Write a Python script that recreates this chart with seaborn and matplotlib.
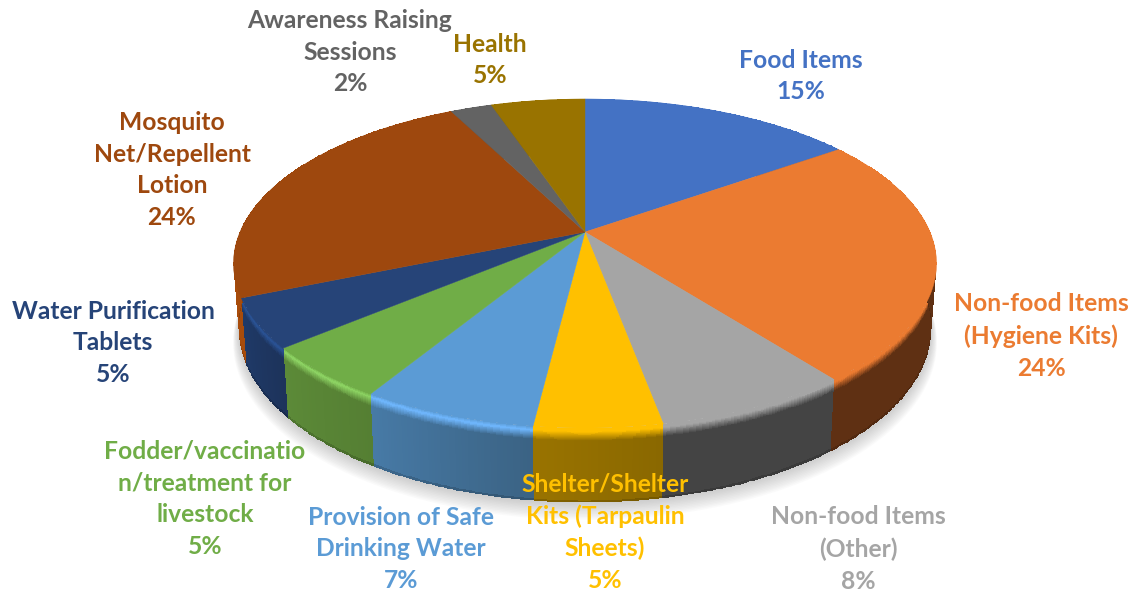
import numpy as np
import matplotlib
matplotlib.use("Agg")
import matplotlib.pyplot as plt
from matplotlib.colors import to_rgb
import seaborn as sns

categories = [
    "Food Items",
    "Non-food Items\n(Hygiene Kits)",
    "Non-food Items\n(Other)",
    "Shelter/Shelter\nKits (Tarpaulin\nSheets)",
    "Provision of Safe\nDrinking Water",
    "Fodder/vaccinatio\nn/treatment for\nlivestock",
    "Water Purification\nTablets",
    "Mosquito\nNet/Repellent\nLotion",
    "Awareness Raising\nSessions",
    "Health",
]
# unrounded shares as read from the slice boundaries, labels show them rounded
shares = [15.2, 24.3, 7.55, 4.9, 6.75, 5.2, 4.8, 23.8, 2.3, 5.2]

face_hex = ["#4472C4", "#EB7B31", "#A5A5A5", "#FFC000", "#5B9BD5",
            "#70AD47", "#264478", "#9E480E", "#636363", "#997300"]
bevel_hex = ["#4472C4", "#EB7B31", "#A5A5A5", "#FFC000", "#70B8FF",
             "#8FD665", "#2A5396", "#C05A05", "#636363", "#997300"]
wall_start = ["#2A4678", "#5F3013", "#444444", "#8A6800", "#3B6384",
              "#557F33", "#1D335B", "#A84C0B", "#444444", "#6B5000"]
wall_end = ["#2A4678", "#5F3013", "#444444", "#997300", "#477AA6",
            "#5C8A38", "#1F3A68", "#A84C0B", "#444444", "#6B5000"]

label_x = [801, 1041, 858, 605, 401, 205, 113, 172, 350, 490]
label_y = [76, 336, 549, 532, 549, 499, 343, 170, 52, 60]

# pie geometry in pixels, the tilt is a simple perspective on the unit circle
cx, cy = 585, 232
rad_x, rad_y = 345, 158.5
persp = 0.1915
depth = 62.5
shrink = 0.015


def project(theta, r=1.0, v=0.0):
    x = r * np.sin(theta)
    y = r * np.cos(theta)
    w = 1 + persp * y
    px = cx + (1 - shrink * v) * rad_x * x / w
    py = cy - (1 - shrink * v) * rad_y * y / w + v * depth * r / w
    return px, py


sns.set_theme(style="white")
plt.rcParams["font.family"] = ["Lato", "DejaVu Sans"]
palette = sns.color_palette(face_hex)

fig = plt.figure(figsize=(11.33, 5.93), dpi=100)
ax = fig.add_axes([0, 0, 1, 1])
ax.set_xlim(0, 1133)
ax.set_ylim(593, 0)
ax.axis("off")

edges = 2 * np.pi * np.concatenate([[0], np.cumsum(shares)]) / sum(shares)

# soft shadow under the body
round_theta = np.linspace(0, 2 * np.pi, 360)
for i in range(12):
    sx, sy = project(round_theta, v=1.0)
    grow = 1 + 0.0015 * i
    ax.fill(cx + (sx - cx) * grow, cy + (sy - cy) * grow + 1 + 1.1 * i,
            color="#808080", alpha=0.035, lw=0, zorder=1 + (11 - i) * 0.01)

# side wall, one mesh per slice
v_grid = np.linspace(0, 1, 81)
v_mid = (v_grid[:-1] + v_grid[1:]) / 2
for i in range(len(shares)):
    theta = np.linspace(edges[i], edges[i + 1], max(int(shares[i] * 8), 8))
    tt, vv = np.meshgrid(theta, v_grid)
    mx, my = project(tt, v=vv)
    along = (np.linspace(0, 1, len(theta) - 1))[None, :, None]
    wall = (1 - along) * np.array(to_rgb(wall_start[i])) + along * np.array(to_rgb(wall_end[i]))
    face = np.array(palette[i])
    bevel = np.array(to_rgb(bevel_hex[i]))
    cols = np.zeros((len(v_mid), len(theta) - 1, 3))
    for j, v in enumerate(v_mid):
        if v < 0.05:
            t = v / 0.05
            cols[j] = (1 - t) * face + t * bevel
        elif v < 0.17:
            t = (v - 0.05) / 0.12
            cols[j] = (1 - t) * bevel + t * wall[0]
        elif v > 0.97:
            cols[j] = wall[0] * 0.85
        else:
            cols[j] = wall[0]
    ax.pcolormesh(mx, my, cols, shading="flat", antialiased=False, zorder=2 + 0.01 * i)

# top face
for i in range(len(shares)):
    theta = np.linspace(edges[i], edges[i + 1], 120)
    px, py = project(theta)
    ax.fill(np.r_[cx, px], np.r_[cy, py], color=palette[i], lw=0.3, zorder=3)

for name, share, x, y, col in zip(categories, shares, label_x, label_y, palette):
    ax.text(x, y, f"{name}\n{share:.0f}%", color=col, fontsize=17.7, fontweight="bold",
            ha="center", va="center", linespacing=1.46, zorder=5)

fig.savefig("out.png", dpi=100, facecolor="white")
